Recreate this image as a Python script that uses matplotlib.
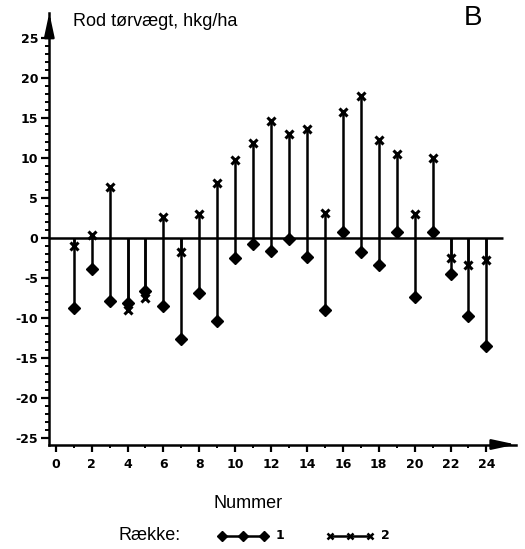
import numpy as np
import matplotlib.pyplot as plt
from matplotlib.lines import Line2D
from matplotlib.ticker import FixedLocator

plt.rcParams['axes.unicode_minus'] = False

# data
nummer = np.arange(1, 25)
raekke1 = [-8.7, -3.8, -7.9, -8.1, -6.6, -8.5, -12.6, -6.8, -10.4, -2.5, -0.75, -1.6,
           -0.15, -2.4, -9.0, 0.75, -1.75, -3.4, 0.75, -7.3, 0.75, -4.5, -9.75, -13.5]
raekke2 = [-1.0, 0.35, 6.45, -9.0, -7.5, 2.7, -1.75, 3.0, 6.9, 9.8, 11.9, 14.6,
           13.0, 13.6, 3.2, 15.8, 17.8, 12.3, 10.5, 3.0, 10.0, -2.5, -3.3, -2.7]
yticks = [25, 20, 15, 10, 5, 0, -5, -10, -15, -20, -25]
xticks = list(range(0, 25, 2))

W, H = 525, 549
fig = plt.figure(figsize=(W / 100, H / 100), dpi=100)
ax = fig.add_axes([49.3 / W, 104.5 / H, (516 - 49.3) / W, (536.3 - 104.5) / H])

lw = 1.8
ax.vlines(nummer, 0, raekke1, color='k', lw=lw)
ax.vlines(nummer, 0, raekke2, color='k', lw=lw)
ax.plot(nummer, raekke1, 'D', color='k', ms=6, ls='none')
ax.plot(nummer, raekke2, 'x', color='k', ms=6, mew=2.2, ls='none')
ax.hlines(0, -0.36, 24.9, color='k', lw=lw)

ax.set_xlim(-0.36, 25.65)
ax.set_ylim(-25.78, 28.2)

for s in ['top', 'right']:
    ax.spines[s].set_visible(False)
for s in ['left', 'bottom']:
    ax.spines[s].set_linewidth(lw)

# arrow heads on the axes
arr = dict(arrowstyle='-|>,head_length=1.4,head_width=0.3', color='k', lw=lw,
           shrinkA=0, shrinkB=0)
ax.annotate('', xy=(1, 0), xytext=(0.95, 0), xycoords='axes fraction', arrowprops=arr)
ax.annotate('', xy=(0, 1), xytext=(0, 0.95), xycoords='axes fraction', arrowprops=arr)

ax.set_yticks(yticks)
ax.set_yticklabels([str(v) for v in yticks])
ax.yaxis.set_minor_locator(FixedLocator([v for v in range(-25, 26) if v % 5]))
ax.set_xticks(xticks)
ax.xaxis.set_minor_locator(FixedLocator(list(range(1, 24, 2))))

ax.tick_params(axis='y', which='major', length=6, width=1.6, pad=2, labelsize=9)
ax.tick_params(axis='y', which='minor', length=3, width=1.4)
ax.tick_params(axis='x', which='major', length=5, width=1.6, pad=4.5, labelsize=9)
ax.tick_params(axis='x', which='minor', length=2.5, width=1.4)
for lab in ax.get_xticklabels() + ax.get_yticklabels():
    lab.set_fontweight('bold')

txt = dict(family='Liberation Sans', fontsize=13)
fig.text(73 / W, 1 - 22 / H, 'Rod tørvægt, hkg/ha', va='center', ha='left', **txt)
fig.text(473 / W, 1 - 18 / H, 'B', va='center', ha='center', family='Liberation Sans', fontsize=20)
fig.text(248 / W, 1 - 503 / H, 'Nummer', va='center', ha='center', **txt)
fig.text(118 / W, 1 - 535 / H, 'Række:', va='center', ha='left', **txt)

# legend
ly = 1 - 535.5 / H
fig.add_artist(Line2D(np.array([222, 243, 264]) / W, [ly] * 3, color='k', lw=lw,
                      marker='D', ms=5))
fig.add_artist(Line2D(np.array([330, 350, 370]) / W, [ly] * 3, color='k', lw=lw,
                      marker='x', ms=5, mew=1.8))
fig.text(280 / W, ly, '1', va='center', ha='center', fontsize=9, fontweight='bold')
fig.text(385 / W, ly, '2', va='center', ha='center', fontsize=9, fontweight='bold')

fig.savefig('out.png', dpi=100)
